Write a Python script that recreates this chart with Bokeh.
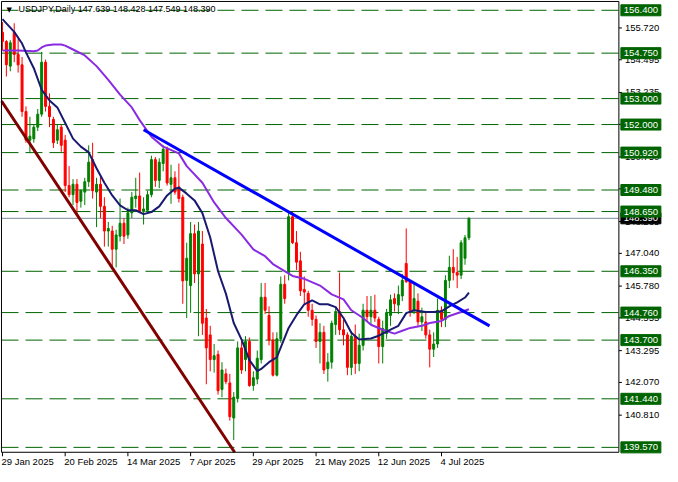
from bokeh.plotting import figure
from bokeh.models import ColumnDataSource, Range1d
from bokeh.core.properties import value
from bokeh.embed import file_html
from bokeh.resources import INLINE

# ---------------- data ----------------
symbol_title = "USDJPY,Daily"
bars = list(range(120))
opens = [155.55, 155.20, 154.25, 155.55, 154.70, 154.30, 152.50, 151.40, 151.45, 151.90,
         152.40, 154.40, 152.70, 152.20, 151.40, 151.90, 151.40, 149.65, 149.30, 149.70,
         149.05, 149.40, 149.80, 150.65, 149.40, 149.70, 148.85, 147.90, 147.90, 147.20,
         147.70, 148.20, 147.75, 148.60, 149.15, 149.25, 148.65, 148.70, 149.30, 150.65,
         149.85, 150.50, 151.05, 149.70, 149.95, 149.60, 149.20, 146.00, 145.80, 147.80,
         146.25, 147.40, 144.55, 143.90, 142.95, 143.15, 141.80, 142.40, 142.05, 140.70,
         141.45, 143.40, 142.95, 143.65, 141.95, 142.20, 142.95, 145.35, 144.65, 143.70,
         142.35, 143.75, 145.85, 146.30, 148.45, 147.45, 146.75, 145.65, 145.50, 144.85,
         144.50, 143.65, 144.00, 142.60, 142.85, 144.30, 144.80, 144.10, 143.90, 142.65,
         143.85, 142.80, 143.50, 144.85, 144.60, 144.85, 144.50, 143.45, 143.95, 144.65,
         145.30, 145.05, 145.40, 146.65, 145.95, 144.85, 145.20, 144.40, 144.40, 143.90,
         143.35, 143.55, 144.85, 144.50, 146.00, 146.50, 146.30, 146.20, 146.85, 147.639]
highs = [155.95, 155.25, 155.25, 155.90, 155.30, 154.60, 152.70, 152.30, 152.00, 152.60,
         154.80, 154.50, 153.20, 152.30, 152.00, 152.00, 151.60, 150.40, 149.90, 149.90,
         149.50, 149.95, 151.20, 151.30, 149.95, 150.00, 149.20, 148.25, 148.10, 147.95,
         149.15, 148.40, 148.80, 149.40, 149.95, 150.15, 149.20, 149.45, 150.80, 150.75,
         150.70, 151.20, 151.15, 150.45, 150.20, 150.50, 149.30, 147.45, 148.25, 148.15,
         148.25, 147.90, 144.90, 144.25, 143.55, 143.30, 142.85, 142.60, 142.40, 141.70,
         143.65, 143.75, 143.85, 143.80, 142.50, 143.30, 145.90, 145.90, 145.00, 144.00,
         144.00, 146.15, 146.20, 148.60, 148.65, 147.90, 147.10, 146.15, 145.60, 145.10,
         144.65, 144.35, 144.25, 143.20, 144.45, 144.95, 146.30, 144.50, 144.00, 144.05,
         144.30, 143.95, 145.10, 145.40, 145.40, 145.45, 144.60, 144.45, 144.90, 145.45,
         145.50, 145.80, 146.25, 148.00, 146.00, 145.90, 145.50, 144.95, 144.80, 144.10,
         144.00, 145.30, 145.00, 146.20, 146.95, 147.20, 146.90, 147.55, 147.75, 148.428]
lows = [154.85, 153.85, 154.05, 154.40, 154.00, 152.30, 151.30, 150.90, 151.30, 151.75,
        152.30, 152.50, 151.90, 151.10, 151.25, 150.95, 149.40, 149.20, 148.90, 148.60,
        148.80, 148.90, 149.60, 149.15, 148.05, 148.40, 147.30, 147.30, 146.55, 146.50,
        147.50, 147.40, 147.60, 148.40, 148.80, 148.60, 148.15, 148.60, 149.20, 149.60,
        149.55, 150.20, 149.65, 148.95, 149.30, 149.00, 145.10, 144.55, 144.75, 145.90,
        143.85, 143.90, 142.00, 142.50, 142.45, 141.60, 141.50, 142.00, 140.60, 139.85,
        141.30, 142.40, 142.50, 141.90, 141.75, 142.00, 142.80, 144.70, 143.50, 142.30,
        142.30, 143.60, 145.10, 146.00, 147.40, 146.40, 145.40, 145.10, 144.60, 144.25,
        143.40, 142.80, 142.40, 142.10, 142.60, 143.90, 143.90, 143.50, 142.35, 142.35,
        142.40, 142.50, 143.30, 144.40, 144.30, 144.40, 142.80, 142.80, 143.75, 144.25,
        144.80, 144.70, 145.20, 145.90, 144.60, 144.70, 144.25, 144.05, 143.75, 142.65,
        143.05, 143.40, 144.20, 144.20, 145.70, 146.00, 145.70, 146.05, 146.60, 147.549]
closes = [155.20, 154.30, 155.15, 154.70, 154.30, 152.50, 151.40, 151.55, 151.90, 152.40,
          154.40, 152.70, 152.30, 151.30, 151.80, 151.20, 149.65, 149.30, 149.70, 149.00,
          149.45, 149.80, 150.55, 149.45, 149.70, 148.85, 147.90, 148.00, 147.20, 147.75,
          148.20, 147.70, 148.60, 149.20, 149.25, 148.65, 148.75, 149.30, 150.65, 149.85,
          150.55, 151.05, 149.75, 149.95, 149.40, 149.15, 145.98, 146.85, 147.80, 146.25,
          147.90, 144.35, 143.40, 142.95, 143.10, 141.75, 142.55, 142.10, 140.75, 141.50,
          143.40, 142.55, 143.65, 141.95, 142.25, 143.00, 145.35, 144.85, 143.70, 142.35,
          143.75, 145.85, 145.30, 148.45, 147.45, 146.70, 145.60, 145.55, 144.85, 144.50,
          143.65, 144.00, 142.55, 142.85, 144.35, 144.80, 144.10, 143.90, 142.65, 143.85,
          142.80, 143.50, 144.85, 144.60, 144.85, 144.55, 143.45, 144.15, 144.75, 145.25,
          145.10, 145.45, 146.00, 145.95, 144.85, 145.30, 144.40, 144.60, 143.90, 143.35,
          143.55, 144.85, 144.50, 146.00, 146.50, 146.30, 146.20, 147.45, 147.64, 148.390]

# moving averages (bar index, price)
fast_ma_bars = [0, 3, 5, 6, 8, 10, 12, 14, 16, 18, 20, 22, 24, 26, 28, 30, 32, 34, 36, 38,
                40, 42, 44, 45, 47, 49, 51, 53, 55, 57, 59, 61, 63, 65, 66, 68, 70, 72, 73, 75,
                77, 79, 81, 83, 85, 87, 89, 91, 94, 96, 99, 101, 103, 105, 108, 110, 112, 114,
                116, 118, 119]
fast_ma_vals = [156.06, 155.57, 155.12, 154.78, 154.17, 153.34, 152.93, 152.66, 152.06, 151.46,
                151.15, 150.93, 150.32, 149.76, 149.27, 148.89, 148.70, 148.70, 148.55, 148.63,
                148.85, 149.27, 149.53, 149.57, 149.34, 149.08, 148.59, 147.65, 146.35, 145.49,
                144.36, 143.72, 142.93, 142.51, 142.59, 142.85, 143.04, 143.80, 144.17, 144.66,
                145.08, 145.23, 145.08, 145.08, 144.97, 144.55, 143.98, 143.72, 143.76, 143.87,
                144.10, 144.25, 144.74, 144.85, 144.78, 144.78, 144.81, 145.00, 145.15, 145.34,
                145.53]
slow_ma_bars = [0, 4, 8, 9, 10, 11, 13, 15, 16, 18, 21, 24, 27, 30, 33, 35, 38, 41, 45, 47,
                51, 54, 57, 61, 64, 67, 69, 72, 74, 77, 81, 84, 87, 89, 92, 94, 97, 100, 102,
                104, 107, 109, 112, 114, 117, 119]
slow_ma_vals = [154.85, 154.85, 154.82, 154.85, 154.97, 155.04, 155.08, 155.08, 155.04, 154.89,
                154.66, 154.25, 153.72, 153.15, 152.66, 152.17, 151.53, 151.15, 150.89, 150.40,
                149.76, 149.00, 148.40, 147.76, 147.19, 146.93, 146.63, 146.36, 146.17, 146.06,
                145.80, 145.46, 145.27, 144.85, 144.55, 144.29, 144.10, 143.95, 144.06, 144.17,
                144.25, 144.36, 144.44, 144.63, 144.78, 144.89]

# trend lines (bar index, price)
blue_trend_bars = [36, 124.25]
blue_trend_prices = [151.80, 144.25]
maroon_trend_bars = [-0.25, 59.23]
maroon_trend_prices = [152.907, 139.381]

# horizontal levels
levels = [156.400, 154.750, 153.000, 152.000, 150.920, 149.480, 148.650,
          146.350, 144.760, 143.700, 141.440, 139.570]
current_price = 148.390

price_ticks = [155.720, 154.495, 153.235, 152.010, 150.750, 149.525, 148.265,
               147.040, 145.780, 144.555, 143.295, 142.070, 140.810]
date_ticks = [0, 16, 32, 48, 64, 80, 96, 112]
date_labels = ["29 Jan 2025", "20 Feb 2025", "14 Mar 2025", "7 Apr 2025",
               "29 Apr 2025", "21 May 2025", "12 Jun 2025", "4 Jul 2025"]

# ---------------- layout / style ----------------
UP = "#008000"
DOWN = "#FF0000"
LEVEL = "#006400"
FONT = "Liberation Sans"
FS = "9.5px"

# chart box (bar index / price) and whole canvas ranges
XL, XR = -0.25, 157.25
YB, YT = 139.381, 156.74
BAR_PX = 3.92          # pixels per bar
PRICE_PX = 25.97       # pixels per yen
CX0, CX1 = -0.5, -0.5 + 662 / BAR_PX
CY0, CY1 = 156.777 - 466 / PRICE_PX, 156.777

p = figure(width=662, height=466, x_range=Range1d(CX0, CX1), y_range=Range1d(CY0, CY1),
           output_backend="svg", toolbar_location=None,
           x_axis_location=None, y_axis_location=None,
           min_border=0, min_border_left=0, min_border_right=0,
           min_border_top=0, min_border_bottom=0)
p.background_fill_color = "white"
p.border_fill_color = "white"
p.outline_line_color = None
p.xgrid.visible = False
p.ygrid.visible = False

# dashed level lines inside the chart box
p.segment(x0=[XL] * len(levels), y0=levels, x1=[XR] * len(levels), y1=levels,
          line_color=LEVEL, line_width=1, line_dash="17 7")
p.segment(x0=[XL], y0=[current_price], x1=[XR], y1=[current_price],
          line_color="#778899", line_width=1)

# candles
colors = [UP if c >= o else DOWN for o, c in zip(opens, closes)]
src = ColumnDataSource(dict(
    bar=bars, open=opens, high=highs, low=lows, close=closes,
    top=[max(o, c) for o, c in zip(opens, closes)],
    bottom=[min(o, c) for o, c in zip(opens, closes)],
    color=colors))
p.segment(x0="bar", y0="low", x1="bar", y1="high", line_color="color", line_width=1, source=src)
p.vbar(x="bar", width=0.5, top="top", bottom="bottom", fill_color="color",
       line_color="color", line_width=1, source=src)

# moving averages
p.line(slow_ma_bars, slow_ma_vals, line_color="#8A2BE2", line_width=2)
p.line(fast_ma_bars, fast_ma_vals, line_color="#191970", line_width=2)

# trend lines
p.line(maroon_trend_bars, maroon_trend_prices, line_color="#800000", line_width=3)
p.line(blue_trend_bars, blue_trend_prices, line_color="#0000FF", line_width=3)

# chart border
p.quad(left=[XL], right=[XR], bottom=[YB], top=[YT], fill_color=None,
       line_color="black", line_width=1)

# price axis: ticks + labels
tick_len = 3 / BAR_PX
p.segment(x0=[XR] * len(price_ticks), y0=price_ticks,
          x1=[XR + tick_len] * len(price_ticks), y1=price_ticks,
          line_color="black", line_width=1)
p.text(x=[XR] * len(price_ticks), y=price_ticks,
       text=[f"{v:.3f}" for v in price_ticks], x_offset=6,
       text_font=value(FONT), text_font_size=FS, text_color="black",
       text_baseline="middle", text_align="left")

# date axis: ticks + left-aligned labels
date_tick_len = 4 / PRICE_PX
p.segment(x0=date_ticks, y0=[YB] * len(date_ticks), x1=date_ticks,
          y1=[YB - date_tick_len] * len(date_ticks), line_color="black", line_width=1)
p.text(x=date_ticks, y=[YB] * len(date_ticks), text=date_labels, x_offset=-1, y_offset=4,
       text_font=value(FONT), text_font_size=FS, text_color="black",
       text_baseline="top", text_align="left")

# price labels (boxes right of the price axis)
box_w, box_h = 40, 11
box_x = XR + (2 + box_w / 2) / BAR_PX
p.rect(x=[box_x], y=[current_price], width=box_w, height=box_h,
       width_units="screen", height_units="screen", fill_color="black", line_color="black")
p.text(x=[box_x], y=[current_price], text=[f"{current_price:.3f}"],
       text_font=value(FONT), text_font_size=FS, text_color="white",
       text_baseline="middle", text_align="center")
p.rect(x=[box_x] * len(levels), y=levels, width=box_w, height=box_h,
       width_units="screen", height_units="screen", fill_color=LEVEL, line_color=LEVEL)
p.text(x=[box_x] * len(levels), y=levels, text=[f"{v:.3f}" for v in levels],
       text_font=value(FONT), text_font_size=FS, text_color="white",
       text_baseline="middle", text_align="center")

# title
title_txt = f"{symbol_title}  {opens[-1]:.3f} {highs[-1]:.3f} {lows[-1]:.3f} {closes[-1]:.3f}"
p.text(x=[XL], y=[YT], text=["\u25BC"], x_offset=5, y_offset=5,
       text_font=value("DejaVu Sans"), text_font_size="7px", text_color="black",
       text_baseline="top", text_align="left")
p.text(x=[XL], y=[YT], text=[title_txt], x_offset=17, y_offset=3,
       text_font=value(FONT), text_font_size="9px", text_color="black",
       text_baseline="top", text_align="left")

open("out.html", "w").write(file_html(p, INLINE))
